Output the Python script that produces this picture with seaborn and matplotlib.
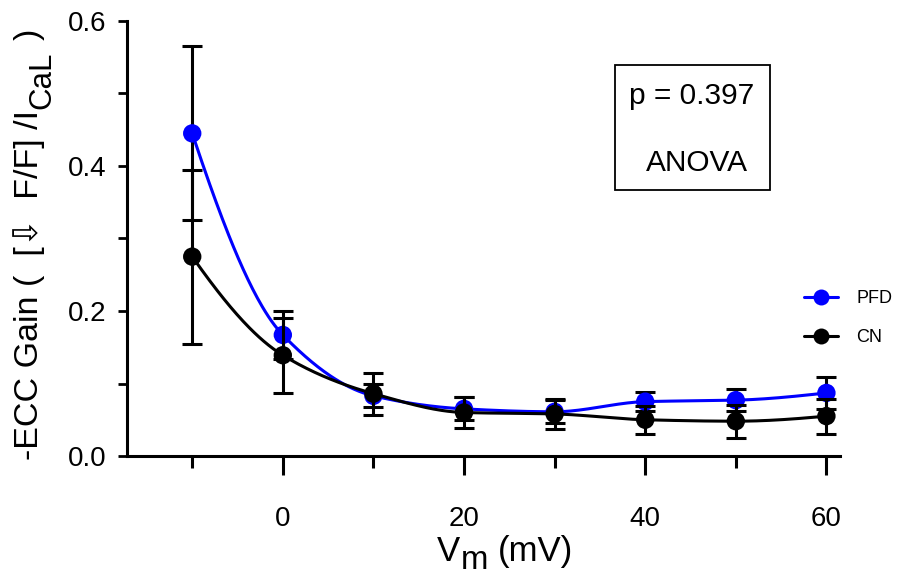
import numpy as np
import matplotlib
matplotlib.use("Agg")
import matplotlib.pyplot as plt
import seaborn as sns
from matplotlib.lines import Line2D
from matplotlib.patches import Rectangle
from matplotlib.transforms import IdentityTransform
from matplotlib.ticker import MultipleLocator

# Membrane potential steps (mV)
volts = [-10, 0, 10, 20, 30, 40, 50, 60]

# ECC gain, mean and SEM for each group
pfd_mean = [0.445, 0.167, 0.083, 0.065, 0.061, 0.075, 0.077, 0.087]
pfd_sem = [0.120, 0.033, 0.016, 0.016, 0.016, 0.013, 0.015, 0.022]
cn_mean = [0.275, 0.139, 0.086, 0.060, 0.058, 0.050, 0.048, 0.055]
cn_sem = [0.120, 0.052, 0.029, 0.022, 0.021, 0.019, 0.023, 0.024]

group_names = ["PFD", "CN"]
group_colors = ["#0000ff", "#000000"]

x_major = [0, 20, 40, 60]
y_major = [0.0, 0.2, 0.4, 0.6]

W, H, DPI = 898, 575, 100


def pchip(x, y, xs):
    """Shape-preserving piecewise cubic Hermite curve through (x, y)."""
    x = np.asarray(x, float)
    y = np.asarray(y, float)
    h = np.diff(x)
    delta = np.diff(y) / h
    n = len(x)
    d = np.zeros(n)
    for k in range(1, n - 1):
        if delta[k - 1] * delta[k] > 0:
            w1 = 2 * h[k] + h[k - 1]
            w2 = h[k] + 2 * h[k - 1]
            d[k] = (w1 + w2) / (w1 / delta[k - 1] + w2 / delta[k])

    def end_slope(h0, h1, d0, d1):
        s = ((2 * h0 + h1) * d0 - h0 * d1) / (h0 + h1)
        if np.sign(s) != np.sign(d0):
            s = 0.0
        elif np.sign(d0) != np.sign(d1) and abs(s) > abs(3 * d0):
            s = 3 * d0
        return s

    d[0] = end_slope(h[0], h[1], delta[0], delta[1])
    d[-1] = end_slope(h[-1], h[-2], delta[-1], delta[-2])
    xs = np.asarray(xs, float)
    idx = np.clip(np.searchsorted(x, xs) - 1, 0, n - 2)
    t = (xs - x[idx]) / h[idx]
    h00 = 2 * t**3 - 3 * t**2 + 1
    h10 = t**3 - 2 * t**2 + t
    h01 = -2 * t**3 + 3 * t**2
    h11 = t**3 - t**2
    return (h00 * y[idx] + h10 * h[idx] * d[idx]
            + h01 * y[idx + 1] + h11 * h[idx] * d[idx + 1])


sns.set_theme(style="ticks")
plt.rcParams["font.family"] = ["Liberation Sans", "DejaVu Sans"]
plt.rcParams.update({"text.color": "black", "axes.labelcolor": "black",
                     "xtick.color": "black", "ytick.color": "black",
                     "axes.edgecolor": "black", "axes.linewidth": 2.2})

fig = plt.figure(figsize=(W / DPI, H / DPI), dpi=DPI)
ax = fig.add_axes([127 / W, 1 - 456 / H, 713 / W, 435 / H])

xs = np.linspace(volts[0], volts[-1], 400)
series = [(pfd_mean, pfd_sem), (cn_mean, cn_sem)]
z = 2
for (mean, sem), col in zip(series, group_colors):
    ax.errorbar(volts, mean, yerr=sem, fmt="none", ecolor="black",
                elinewidth=2.2, capsize=7, capthick=2.2, zorder=z)
    sns.lineplot(x=xs, y=pchip(volts, mean, xs), color=col, lw=2.2,
                 ax=ax, zorder=z + 1)
    sns.scatterplot(x=volts, y=mean, color=col, s=175, edgecolor="none",
                    linewidth=0, ax=ax, zorder=z + 2)
    z += 3

ax.set_xlim(-17.2, 61.5)
ax.set_ylim(0, 0.6)
ax.set_xticks(x_major)
ax.xaxis.set_minor_locator(MultipleLocator(10))
ax.set_yticks(y_major)
ax.set_yticklabels([f"{v:.1f}" for v in y_major])
ax.yaxis.set_minor_locator(MultipleLocator(0.1))
ax.tick_params(axis="x", which="major", length=14, width=2.2,
               labelsize=20, pad=22)
ax.tick_params(axis="x", which="minor", length=8.5, width=2.2)
ax.tick_params(axis="y", which="both", length=6.5, width=2.0,
               labelsize=20, pad=8)
ax.set_xlabel("")
ax.set_ylabel("")
for s in ["top", "right"]:
    ax.spines[s].set_visible(False)
ax.set_facecolor("white")

# Legend
handles = [Line2D([0], [0], color=c, lw=2.2, marker="o", markersize=11.5,
                  markeredgewidth=0) for c in group_colors]
fig.legend(handles, group_names, loc="center left",
           bbox_to_anchor=(804 / W, 1 - 318 / H), frameon=False,
           fontsize=13, handlelength=1.9, handletextpad=1.0,
           labelspacing=1.2, borderpad=0, borderaxespad=0)

# Statistics box
fig.add_artist(Rectangle((615 / W, 1 - 190 / H), 155 / W, 125 / H,
                         transform=fig.transFigure, fill=False,
                         edgecolor="black", lw=1.3))
fig.text(692 / W, 1 - 96 / H, "p = 0.397", ha="center", va="center",
         fontsize=21.5)
fig.text(697 / W, 1 - 163 / H, "ANOVA", ha="center", va="center",
         fontsize=21.5)

renderer = fig.canvas.get_renderer()
ident = IdentityTransform()


def place_pieces(pieces, x0, y0, size, rotated):
    """Lay out text pieces one after another; each piece is
    (text, gap_before, baseline_shift, scale)."""
    pos = 0.0
    for text, gap, shift, scale in pieces:
        pos += gap
        if rotated:
            t = fig.text(x0 + shift, y0 + pos, text, transform=ident,
                         rotation=90, rotation_mode="anchor", ha="left",
                         va="baseline", fontsize=size * scale)
            pos += t.get_window_extent(renderer).height
        else:
            t = fig.text(x0 + pos, y0 - shift, text, transform=ident,
                         ha="left", va="baseline", fontsize=size * scale)
            pos += t.get_window_extent(renderer).width


# Axis titles
place_pieces([("V", 0, 0, 1.0), ("m", 1, 8, 0.95), ("(mV)", 9, 0, 1.0)],
             437, H - 561, 25, rotated=False)
place_pieces([("-ECC Gain (  [\u21e9  F/F] /I", 0, 0, 1.0),
              ("CaL", 1, 12, 0.92), (")", 12, 0, 1.0)],
             38, H - 460, 24.5, rotated=True)

fig.savefig("out.png", dpi=DPI, facecolor="white")
